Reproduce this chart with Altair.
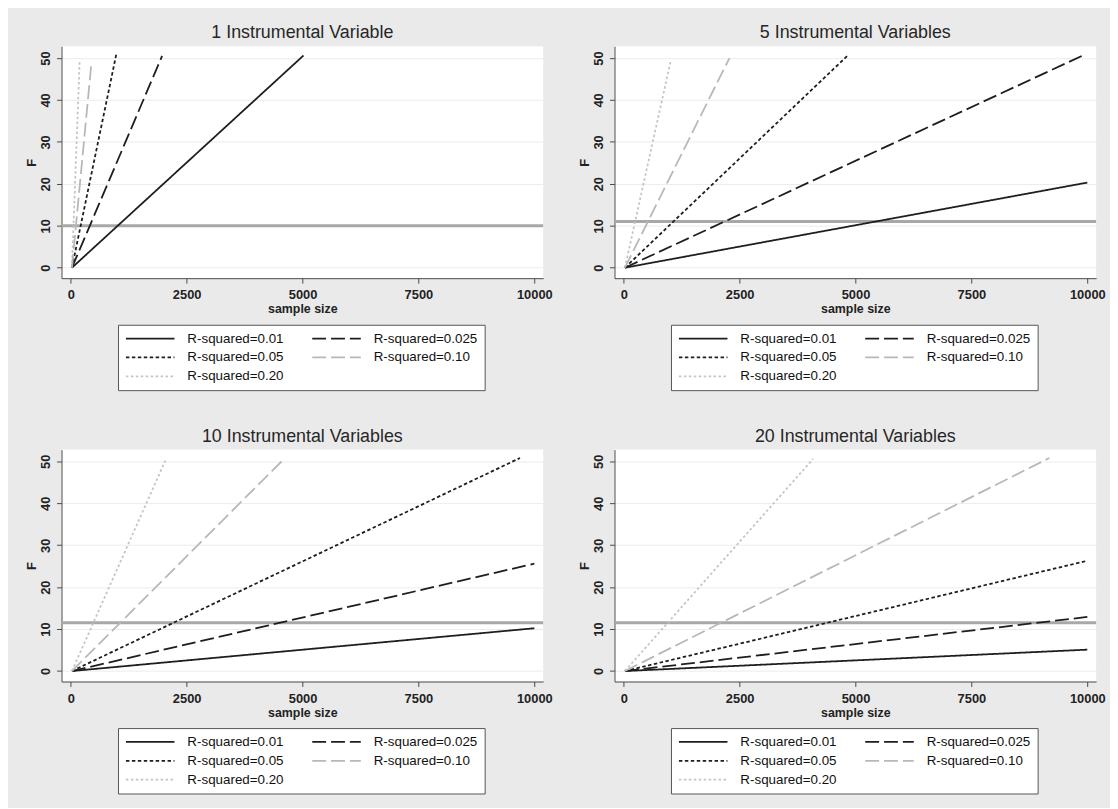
import altair as alt
import pandas as pd

panel_titles = ["1 Instrumental Variable", "5 Instrumental Variables",
                "10 Instrumental Variables", "20 Instrumental Variables"]
# order chosen so that the 2-column legend reads row by row as in the original
series_labels = ["R-squared=0.01", "R-squared=0.05", "R-squared=0.20",
                 "R-squared=0.025", "R-squared=0.10"]

# every line starts near the origin
start_n = 25
start_f = 0.0

# line end points (sample size, F), in series_labels order
end_n_1 = [5020, 980, 190, 1970, 445]
end_f_1 = [50.6, 50.8, 49.0, 50.5, 48.8]
end_n_5 = [10000, 4850, 1010, 9960, 2280]
end_f_5 = [20.3, 50.8, 49.2, 50.9, 50.0]
end_n_10 = [10000, 9690, 2040, 10000, 4620]
end_f_10 = [10.2, 50.8, 50.2, 25.6, 50.8]
end_n_20 = [10000, 10000, 4085, 10000, 9180]
end_f_20 = [5.1, 26.3, 50.6, 12.9, 50.8]

# horizontal reference line per panel
threshold = [10, 11, 11.5, 11.5]

x_ticks = [0, 2500, 5000, 7500, 10000]
y_ticks = [0, 10, 20, 30, 40, 50]

line_colors = ["#1e1e1e", "#1e1e1e", "#c4c4c4", "#1e1e1e", "#b8b8b8"]
line_dashes = [[1, 0], [3.5, 2.5], [2.5, 2.5], [14, 5], [14, 5]]

FONT = "Liberation Sans"
AXIS_COLOR = "#4a4a4a"

ends = [(end_n_1, end_f_1), (end_n_5, end_f_5), (end_n_10, end_f_10), (end_n_20, end_f_20)]


def panel(i):
    en, ef = ends[i]
    rows = []
    for s, lab in enumerate(series_labels):
        rows.append({"series": lab, "n": start_n, "F": start_f, "pt": 0})
        rows.append({"series": lab, "n": en[s], "F": ef[s], "pt": 1})
    df = pd.DataFrame(rows)
    href = pd.DataFrame({"F": [threshold[i]]})

    xscale = alt.Scale(domain=[-200, 10190], nice=False, zero=False)
    yscale = alt.Scale(domain=[-2.5, 52.8], nice=False, zero=False)

    xaxis = alt.Axis(values=x_ticks, format="d", title="sample size", grid=False,
                     domainColor=AXIS_COLOR, tickColor=AXIS_COLOR, tickSize=5,
                     labelFont=FONT, labelFontSize=13, labelFontWeight="bold",
                     labelColor="#222", labelPadding=6, labelFlush=False,
                     titleFont=FONT, titleFontSize=12.5, titleFontWeight="bold",
                     titleColor="#222", titlePadding=1)
    yaxis = alt.Axis(values=y_ticks, format="d", title="F", grid=True,
                     gridColor="#ececec", gridWidth=1,
                     domainColor=AXIS_COLOR, tickColor=AXIS_COLOR, tickSize=5,
                     labelAngle=270, labelFont=FONT, labelFontSize=13,
                     labelFontWeight="bold", labelColor="#222", labelPadding=4,
                     titleFont=FONT, titleFontSize=13, titleFontWeight="bold",
                     titleColor="#222", titlePadding=1)

    legend = alt.Legend(title=None, orient="none", legendX=57, legendY=281,
                        columns=2, symbolType="stroke", symbolSize=2400,
                        symbolStrokeWidth=1.8, clipHeight=14, rowPadding=5,
                        columnPadding=27, labelOffset=12, padding=7,
                        strokeColor="#555555", fillColor="white",
                        labelFont=FONT, labelFontSize=13.5, labelColor="#111",
                        labelLimit=300)

    rule = alt.Chart(href).mark_rule(color="#a8a8a8", strokeWidth=3).encode(
        y=alt.Y("F:Q", scale=yscale, axis=yaxis)
    )
    lines = alt.Chart(df).mark_line(strokeWidth=1.8, clip=True).encode(
        x=alt.X("n:Q", scale=xscale, axis=xaxis),
        y=alt.Y("F:Q", scale=yscale, axis=yaxis),
        color=alt.Color("series:N", scale=alt.Scale(domain=series_labels, range=line_colors),
                        legend=legend),
        strokeDash=alt.StrokeDash("series:N",
                                  scale=alt.Scale(domain=series_labels, range=line_dashes),
                                  legend=legend),
        order=alt.Order("pt:Q"),
    )
    return alt.layer(rule, lines).properties(
        width=486, height=234,
        title=alt.TitleParams(panel_titles[i], font=FONT, fontSize=18, fontWeight="normal",
                              color="#262626", anchor="middle", frame="group", offset=4),
    )


chart = alt.concat(
    panel(0), panel(1), panel(2), panel(3),
    columns=2, bounds="flush", spacing={"row": 173, "column": 72},
).resolve_scale(
    color="independent", strokeDash="independent"
).resolve_legend(
    color="independent", strokeDash="independent"
).properties(
    background="#eaeaea",
    padding={"left": 18, "top": 13, "right": 4, "bottom": 10},
).configure_view(
    fill="white", stroke=None
)

chart.save("out.html", embed_options={"renderer": "svg", "actions": False})
